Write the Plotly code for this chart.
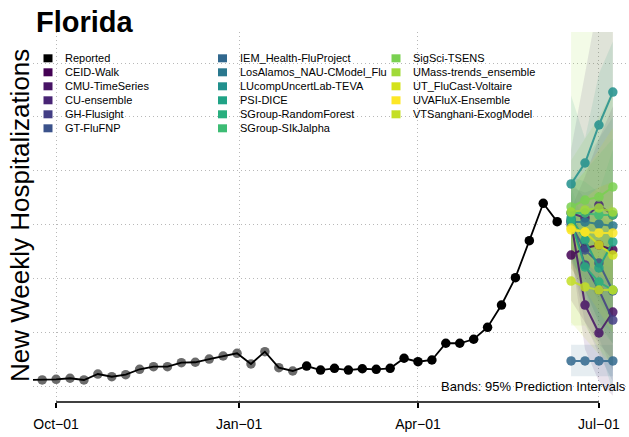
import plotly.graph_objects as go
import pandas as pd

# reported weekly hospitalizations (Saturdays)
report_dates = pd.date_range("2022-09-17", "2023-06-10", freq="7D")
reported = [65, 65, 71, 81, 65, 120, 95, 114, 164, 188, 188, 225, 229, 259, 287, 312, 213, 327, 179, 148,
            194, 157, 173, 157, 169, 164, 173, 266, 234, 250, 405, 405, 442, 553, 759, 1012, 1355, 1701, 1531]
revised_until = pd.Timestamp("2023-01-28")  # older points drawn grey

forecast_dates = pd.to_datetime(["2023-06-17", "2023-06-24", "2023-07-01", "2023-07-08"])

model_names = ["CEID-Walk", "CMU-TimeSeries", "CU-ensemble", "GH-Flusight", "GT-FluFNP",
               "IEM_Health-FluProject", "LosAlamos_NAU-CModel_Flu", "LUcompUncertLab-TEVA",
               "PSI-DICE", "SGroup-RandomForest", "SGroup-SIkJalpha",
               "SigSci-TSENS", "UMass-trends_ensemble", "UT_FluCast-Voltaire",
               "UVAFluX-Ensemble", "VTSanghani-ExogModel"]
model_colors = ["#440154", "#471365", "#482475", "#433E85", "#3B528B",
                "#31688E", "#2A788E", "#21908D", "#20A386", "#29AF7F", "#3DBC74",
                "#7AD151", "#A0DA39", "#D4E21A", "#FDE725", "#C4DF25"]

fc_median = {
    "CEID-Walk": [1222, 1287, 1315, 1269],
    "CMU-TimeSeries": [1528, 759, 500, 694],
    "CU-ensemble": [1611, 1565, 1685, 1593],
    "GH-Flusight": [1546, 1130, 898, 620],
    "GT-FluFNP": [1500, 1269, 1148, 889],
    "IEM_Health-FluProject": [241, 241, 241, 241],
    "LosAlamos_NAU-CModel_Flu": [1528, 1528, 1509, 1491],
    "LUcompUncertLab-TEVA": [1880, 2074, 2426, 2731],
    "PSI-DICE": [1565, 1361, 1102, 1343],
    "SGroup-RandomForest": [1537, 1111, 972, 898],
    "SGroup-SIkJalpha": [1611, 1611, 1593, 1593],
    "SigSci-TSENS": [1667, 1731, 1759, 1852],
    "UMass-trends_ensemble": [1620, 1639, 1657, 1620],
    "UT_FluCast-Voltaire": [1472, 1435, 1315, 1222],
    "UVAFluX-Ensemble": [1454, 1435, 1426, 1426],
    "VTSanghani-ExogModel": [981, 926, 898, 898],
}
fc_lower = {
    "CEID-Walk": [800, 600, 400, 250],
    "CMU-TimeSeries": [1250, 350, 50, -80],
    "CU-ensemble": [1100, 900, 600, 400],
    "GH-Flusight": [1200, 600, 300, 50],
    "GT-FluFNP": [1150, 750, 450, 150],
    "IEM_Health-FluProject": [100, 100, 100, 100],
    "LosAlamos_NAU-CModel_Flu": [1150, 1000, 800, 600],
    "LUcompUncertLab-TEVA": [1200, 900, 400, -50],
    "PSI-DICE": [1200, 900, 600, 500],
    "SGroup-RandomForest": [1250, 800, 550, 400],
    "SGroup-SIkJalpha": [1350, 1200, 1050, 900],
    "SigSci-TSENS": [1300, 1250, 1150, 1100],
    "UMass-trends_ensemble": [570, 570, 350, 200],
    "UT_FluCast-Voltaire": [1100, 900, 700, 500],
    "UVAFluX-Ensemble": [1250, 1150, 1050, 950],
    "VTSanghani-ExogModel": [600, 450, 300, 200],
}
fc_upper = {
    "CEID-Walk": [1650, 1950, 2300, 2600],
    "CMU-TimeSeries": [1800, 1250, 1100, 1500],
    "CU-ensemble": [2200, 2900, 3600, 4200],
    "GH-Flusight": [1900, 1750, 1600, 1500],
    "GT-FluFNP": [1850, 1800, 1850, 1900],
    "IEM_Health-FluProject": [390, 390, 390, 390],
    "LosAlamos_NAU-CModel_Flu": [1900, 2100, 2300, 2500],
    "LUcompUncertLab-TEVA": [2700, 2300, 2900, 3200],
    "PSI-DICE": [1950, 1900, 1800, 2200],
    "SGroup-RandomForest": [1850, 1500, 1450, 1450],
    "SGroup-SIkJalpha": [1850, 2000, 2150, 2300],
    "SigSci-TSENS": [2100, 2300, 2500, 2750],
    "UMass-trends_ensemble": [3300, 3500, 3600, 3800],
    "UT_FluCast-Voltaire": [1850, 2000, 2200, 2400],
    "UVAFluX-Ensemble": [1650, 1750, 1850, 1900],
    "VTSanghani-ExogModel": [1400, 1500, 1600, 1700],
}

tick_dates = pd.to_datetime(["2022-10-01", "2023-01-01", "2023-04-01", "2023-07-01"])
tick_text = ["Oct\u221201", "Jan\u221201", "Apr\u221201", "Jul\u221201"]
grid_vals = [0, 500, 1000, 1500, 2000, 2500, 3000]

W, H = 629, 437
L, R, T, B = 33, 0, 32, 35
pw, ph = W - L - R, H - T - B
FONT = "Liberation Sans, Arial, Helvetica, sans-serif"


def px(x):
    return (x - L) / pw


def py(y):
    return (H - B - y) / ph


def rgba(hex_color, a):
    h = hex_color.lstrip("#")
    return f"rgba({int(h[0:2], 16)},{int(h[2:4], 16)},{int(h[4:6], 16)},{a})"


fig = go.Figure()

# prediction interval bands
for name, color in zip(model_names, model_colors):
    fig.add_trace(go.Scatter(
        x=list(forecast_dates) + list(forecast_dates[::-1]),
        y=fc_upper[name] + fc_lower[name][::-1],
        fill="toself",
        fillcolor=rgba(color, 0.12),
        line=dict(width=0),
        mode="lines",
        hoverinfo="skip",
        showlegend=False,
    ))

# reported data
point_colors = ["#6b6b6b" if d <= revised_until else "black" for d in report_dates]
fig.add_trace(go.Scatter(
    x=report_dates, y=reported, mode="markers",
    marker=dict(size=9.5, color=point_colors),
    showlegend=False,
))
fig.add_trace(go.Scatter(
    x=report_dates, y=reported, mode="lines",
    line=dict(color="black", width=1.8),
    showlegend=False,
))

# model medians
for name, color in zip(model_names, model_colors):
    fig.add_trace(go.Scatter(
        x=forecast_dates, y=fc_median[name], mode="lines+markers",
        line=dict(color=color, width=2),
        marker=dict(size=9.5, color=color),
        opacity=0.85,
        name=name,
        showlegend=False,
    ))

# legend drawn R-style: three columns of filled squares
shapes = []
annotations = []
legend_names = ["Reported"] + model_names
legend_colors = ["black"] + model_colors
col_x = [43.5, 218, 391.5]
for i, (name, color) in enumerate(zip(legend_names, legend_colors)):
    c, r = divmod(i, 6)
    sx = col_x[c]
    yc = 58.3 + r * 14
    shapes.append(dict(type="rect", xref="paper", yref="paper",
                       x0=px(sx), x1=px(sx + 9), y0=py(yc + 4), y1=py(yc - 4),
                       fillcolor=color, line=dict(width=0)))
    annotations.append(dict(text=name, xref="paper", yref="paper",
                            x=px(sx + 19.5), y=py(yc), xanchor="left", yanchor="middle",
                            showarrow=False, font=dict(size=11, color="black", family=FONT)))

# R-style axis line spanning first to last tick
shapes.append(dict(type="line", xref="x", yref="paper",
                   x0=tick_dates[0], x1=tick_dates[-1], y0=0, y1=0,
                   line=dict(color="black", width=1.5)))

annotations.append(dict(text="<b>Florida</b>", xref="paper", yref="paper",
                        x=px(34), y=py(22), xanchor="left", yanchor="middle",
                        showarrow=False, font=dict(size=29, color="black", family=FONT)))
annotations.append(dict(text="New Weekly Hospitalizations", xref="paper", yref="paper",
                        x=px(20), y=py(216), xanchor="center", yanchor="middle", textangle=-90,
                        showarrow=False, font=dict(size=26, color="black", family=FONT)))
annotations.append(dict(text="Bands: 95% Prediction Intervals", xref="paper", yref="paper",
                        x=px(628), y=py(386), xanchor="right", yanchor="middle",
                        showarrow=False, font=dict(size=13, color="black", family=FONT)))

fig.update_layout(
    width=W, height=H,
    margin=dict(l=L, r=R, t=T, b=B),
    paper_bgcolor="white", plot_bgcolor="white",
    font=dict(family=FONT, color="black"),
    shapes=shapes, annotations=annotations,
    showlegend=False,
    xaxis=dict(
        range=[pd.Timestamp("2022-09-19 09:00"), pd.Timestamp("2023-07-16 03:00")],
        tickvals=tick_dates, ticktext=tick_text,
        ticks="outside", ticklen=5, tickwidth=1.5, tickcolor="black",
        ticklabelstandoff=4,
        tickfont=dict(size=14, color="black"),
        showgrid=True, gridcolor="#b8b8b8", griddash="1px,3px", gridwidth=1,
        showline=False, zeroline=False,
    ),
    yaxis=dict(
        range=[-139, 3287],
        tickvals=grid_vals, showticklabels=False, ticks="",
        showgrid=True, gridcolor="#b8b8b8", griddash="1px,3px", gridwidth=1,
        showline=False, zeroline=False,
    ),
)

fig.write_html("out.html", config={"displayModeBar": False},
               post_script="document.body.style.margin='0px';")
